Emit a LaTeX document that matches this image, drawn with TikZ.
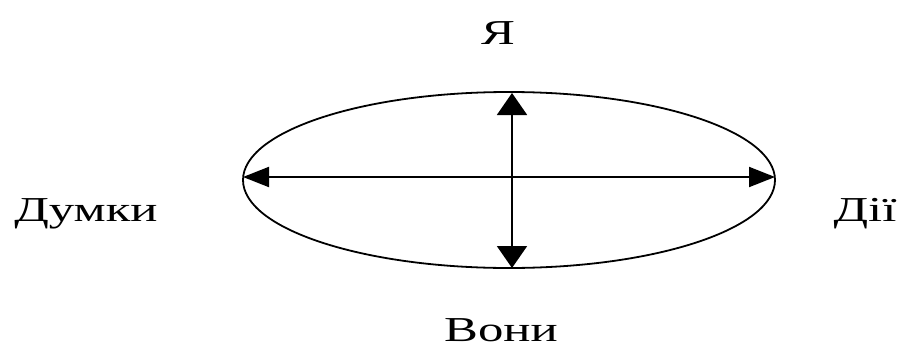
\documentclass[tikz,border=0pt]{standalone}
\usepackage{fontspec}
\setmainfont{Liberation Serif}
\newfontfamily\lblfont[FakeStretch=1.45]{Liberation Serif}
\usetikzlibrary{arrows.meta,shapes.geometric}
\begin{document}
\begin{tikzpicture}[x=1pt,y=-1pt,
  lbl/.style={font=\lblfont\fontsize{35}{37}\selectfont, inner sep=0pt},
  harrow/.style={line width=2pt, {Triangle[length=26pt,width=20pt]}-{Triangle[length=26pt,width=20pt]}},
  varrow/.style={line width=2pt, {Triangle[length=22pt,width=30pt]}-{Triangle[length=22pt,width=30pt]}},
  oval/.style={draw, line width=1.8pt, ellipse, minimum width=532pt, minimum height=176pt, inner sep=0pt}]
\useasboundingbox (0,0) rectangle (903,351);
\node[oval] (e) at (509,180) {};
\coordinate (l) at (243,177);
\coordinate (r) at (775,177);
\coordinate (t) at (512,93);
\coordinate (b) at (512,268);
\draw[harrow] (l) -- (r);
\draw[varrow] (t) -- (b);
\node[lbl] (ya) at (498,33) {Я};
\node[lbl] (dumky) at (86,214) {Думки};
\node[lbl] (dii) at (865,214) {Дії};
\node[lbl] (vony) at (501,330) {Вони};
\end{tikzpicture}
\end{document}
